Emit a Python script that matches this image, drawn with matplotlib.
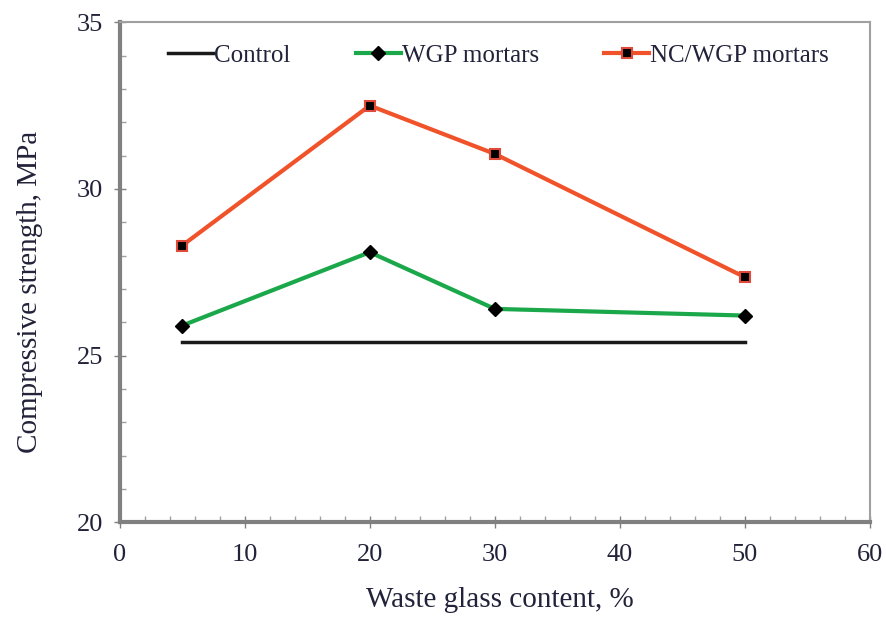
import matplotlib.pyplot as plt
from matplotlib.ticker import MultipleLocator

content = [5, 20, 30, 50]
control = [25.4, 25.4, 25.4, 25.4]
wgp = [25.9, 28.1, 26.4, 26.2]
nc_wgp = [28.3, 32.5, 31.05, 27.35]

plt.rcParams["font.family"] = ["Liberation Serif", "DejaVu Serif"]
text_color = "#22223a"
axis_gray = "#808080"

fig = plt.figure(figsize=(8.86, 6.18), dpi=100)
ax = fig.add_axes([0.135, 0.155, 0.847, 0.809])

ax.plot(content, control, color="#1a1a1a", lw=2.5, label="Control")
ax.plot(content, wgp, color="#1aa84a", lw=3, marker="D", ms=7,
        mfc="black", mec="black", label="WGP mortars")
ax.plot(content, nc_wgp, color="#f0522a", lw=3, marker="s", ms=7,
        mfc="black", mec="#e04a3a", mew=1.5, label="NC/WGP mortars")

ax.set_xlim(0, 60)
ax.set_ylim(20, 35)
ax.xaxis.set_major_locator(MultipleLocator(10))
ax.xaxis.set_minor_locator(MultipleLocator(2))
ax.yaxis.set_major_locator(MultipleLocator(5))
ax.yaxis.set_minor_locator(MultipleLocator(1))
ax.tick_params(which="major", direction="inout", length=8, width=1,
               color=axis_gray, labelsize=19, labelcolor=text_color)
ax.tick_params(axis="x", which="major", pad=12)
ax.tick_params(axis="y", which="major", pad=8)
ax.tick_params(which="minor", direction="in", length=4, width=1, color="#a0a0a0")

ax.spines["left"].set_linewidth(3)
ax.spines["bottom"].set_linewidth(3)
ax.spines["left"].set_color(axis_gray)
ax.spines["bottom"].set_color(axis_gray)
ax.spines["top"].set_linewidth(1.5)
ax.spines["right"].set_linewidth(1.5)
ax.spines["top"].set_color("#a0a0a0")
ax.spines["right"].set_color("#a0a0a0")

ax.set_xlabel("Waste glass content, %", fontsize=21, color=text_color, va="center")
ax.set_ylabel("Compressive strength, MPa", fontsize=21, color=text_color, va="center")
ax.xaxis.set_label_coords(0.507, -0.156)
ax.yaxis.set_label_coords(-0.12, 0.46)

ax.legend(loc="upper center", bbox_to_anchor=(0.505, 1.0), ncol=3, frameon=False,
          fontsize=18, handlelength=1.8, handletextpad=0.05, columnspacing=2.6,
          labelcolor=text_color)

plt.savefig("out.png", dpi=100)
